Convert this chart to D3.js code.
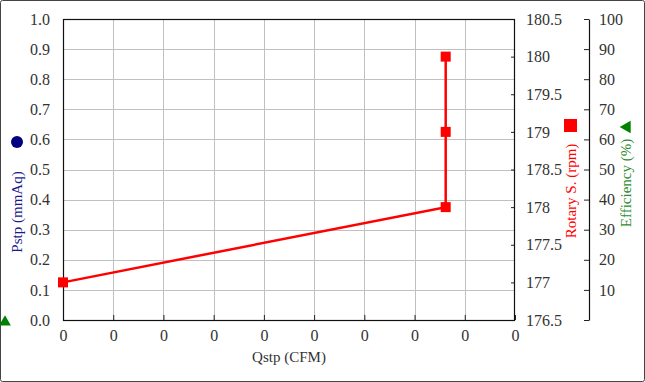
<!DOCTYPE html>
<html lang="en">
<head>
  <meta charset="UTF-8" />
  <title>Fan curve</title>
  <script src="https://d3js.org/d3.v7.min.js"></script>
  <style>
    body { margin: 0; background: #fff; }
    svg { display: block; }
  </style>
</head>
<body>
<svg id="chart"></svg>
<script>
// data
const qstp = [0, 0.00762, 0.00762, 0.00762];
const rotarySpeed = [177, 178, 179, 180];
const qstpTicks = d3.range(0, 0.0091, 0.001);
const pstpTicks = d3.range(0, 1.01, 0.1);
const rpmTicks = d3.range(176.5, 180.51, 0.5);
const effTicks = d3.range(0, 101, 10);

const width = 645, height = 382;
const plot = {left: 63, right: 515, top: 19, bottom: 320};
const serif = "Liberation Serif, serif";

const svg = d3.select("#chart").attr("width", width).attr("height", height);

// outer frame
svg.append("rect")
  .attr("x", 0.5).attr("y", 0.5)
  .attr("width", width - 1).attr("height", height - 1)
  .attr("rx", 2)
  .attr("fill", "#fff").attr("stroke", "#444").attr("stroke-width", 1);

const x = d3.scaleLinear().domain([0, 0.009]).range([plot.left, plot.right]);
const yP = d3.scaleLinear().domain([0, 1]).range([plot.bottom, plot.top]);
const yR = d3.scaleLinear().domain([176.5, 180.5]).range([plot.bottom, plot.top]);
const yE = d3.scaleLinear().domain([0, 100]).range([plot.bottom, plot.top]);

// grid
const grid = svg.append("g").attr("stroke", "#c0c0c0").attr("stroke-width", 1);
grid.selectAll(".gx").data(qstpTicks.slice(1, -1)).enter().append("line")
  .attr("x1", d => Math.round(x(d)) + 0.5).attr("x2", d => Math.round(x(d)) + 0.5)
  .attr("y1", plot.top).attr("y2", plot.bottom);
grid.selectAll(".gy").data(pstpTicks.slice(1, -1)).enter().append("line")
  .attr("x1", plot.left).attr("x2", plot.right)
  .attr("y1", d => Math.round(yP(d)) + 0.5).attr("y2", d => Math.round(yP(d)) + 0.5);

const tickText = "#333";

function styleAxis(g) {
  g.attr("font-family", serif).attr("font-size", 16);
  g.selectAll("line").attr("stroke", "#222");
  g.selectAll("text").attr("font-family", serif).attr("font-size", 16).attr("fill", tickText);
}

// bottom axis
const xAxis = svg.append("g").attr("transform", `translate(0,${plot.bottom})`)
  .call(d3.axisBottom(x).tickValues(qstpTicks).tickSizeInner(-5).tickSizeOuter(0)
    .tickPadding(10).tickFormat(d3.format(".0f")));
xAxis.select(".domain").remove();
styleAxis(xAxis);

// left axis
const pAxis = svg.append("g").attr("transform", `translate(${plot.left},0)`)
  .call(d3.axisLeft(yP).tickValues(pstpTicks).tickSize(0).tickPadding(13).tickFormat(d3.format(".1f")));
pAxis.select(".domain").remove();
styleAxis(pAxis);

// right axis: rotary speed
const rAxis = svg.append("g").attr("transform", `translate(${plot.right},0)`)
  .call(d3.axisRight(yR).tickValues(rpmTicks).tickSizeInner(-4).tickSizeOuter(0)
    .tickPadding(11).tickFormat(d3.format("")));
rAxis.select(".domain").remove();
styleAxis(rAxis);

// plot border
svg.append("rect")
  .attr("x", plot.left + 0.5).attr("y", plot.top + 0.5)
  .attr("width", plot.right - plot.left - 1).attr("height", plot.bottom - plot.top)
  .attr("fill", "none").attr("stroke", "#111").attr("stroke-width", 1.2);

// efficiency axis
const effX = 589;
const eAxis = svg.append("g").attr("transform", `translate(${effX},0)`)
  .call(d3.axisRight(yE).tickValues(effTicks).tickSizeInner(-5).tickSizeOuter(0)
    .tickPadding(10).tickFormat(d => d === 0 ? "" : d));
styleAxis(eAxis);
eAxis.select(".domain").attr("stroke", "#111").attr("stroke-width", 1.2);

// series
const pts = qstp.map((q, i) => ({q: q, r: rotarySpeed[i]}));
svg.append("path").datum(pts)
  .attr("fill", "none").attr("stroke", "#ff0000").attr("stroke-width", 2.5)
  .attr("d", d3.line().x(d => x(d.q)).y(d => yR(d.r)));
svg.selectAll(".mk").data(pts).enter().append("rect")
  .attr("x", d => x(d.q) - 5).attr("y", d => yR(d.r) - 5)
  .attr("width", 10).attr("height", 10).attr("fill", "#ff0000");

// titles
function title(t, fill) {
  return svg.append("text").attr("text-anchor", "middle")
    .attr("font-family", serif).attr("font-size", 15).attr("fill", fill).text(t);
}
title("Qstp (CFM)", "#333").attr("x", (plot.left + plot.right) / 2).attr("y", 362);

title("Pstp (mmAq)", "#1a1a8c").attr("transform", "translate(22,212) rotate(-90)");
svg.append("circle").attr("cx", 17).attr("cy", 142).attr("r", 6).attr("fill", "#000080");

title("Rotary S. (rpm)", "#ff0000").attr("transform", "translate(576,191) rotate(-90)");
svg.append("rect").attr("x", 564).attr("y", 119).attr("width", 13).attr("height", 13).attr("fill", "#ff0000");

title("Efficiency (%)", "#2e8b2e").attr("transform", "translate(631,183) rotate(-90)");
svg.append("path").attr("d", d3.symbol(d3.symbolTriangle, 70)())
  .attr("transform", "translate(627,127) rotate(-90)").attr("fill", "#008000");

svg.append("path").attr("d", d3.symbol(d3.symbolTriangle, 60)())
  .attr("transform", "translate(5,322)").attr("fill", "#008000");
</script>
</body>
</html>
